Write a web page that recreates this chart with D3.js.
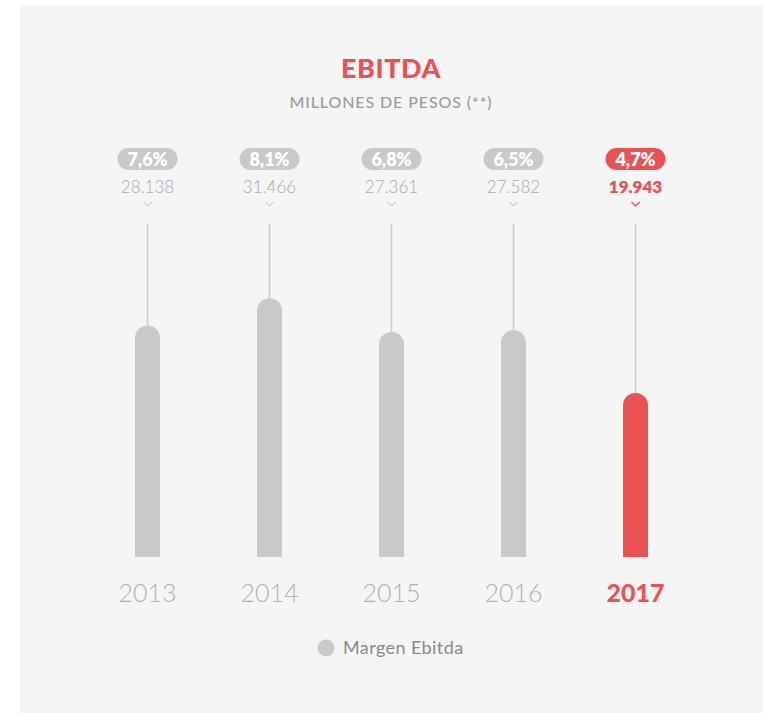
<!DOCTYPE html>
<html>
<head>
<meta charset="utf-8">
<script src="https://cdn.jsdelivr.net/npm/d3@7"></script>
<style>
  html, body { margin: 0; padding: 0; background: #ffffff; }
  svg { display: block; }
</style>
</head>
<body>
<svg id="chart" width="769" height="713"></svg>
<script>
const years = ["2013", "2014", "2015", "2016", "2017"];
const ebitda = [28138, 31466, 27361, 27582, 19943];
const ebitdaLabels = ["28.138", "31.466", "27.361", "27.582", "19.943"];
const margins = ["7,6%", "8,1%", "6,8%", "6,5%", "4,7%"];
const highlightYear = "2017";

const GRAY = "#c8c9ca", RED = "#e85253";
const svg = d3.select("#chart");
const font = "Lato, 'Open Sans', sans-serif";

svg.append("rect").attr("x", 20).attr("y", 5).attr("width", 743).attr("height", 708).attr("fill", "#f5f5f5");

svg.append("text").attr("x", 391).attr("y", 78).attr("text-anchor", "middle")
  .attr("font-family", font).attr("font-weight", 900).attr("font-size", 27)
  .attr("letter-spacing", 0.5).attr("fill", RED).text("EBITDA");
svg.append("text").attr("x", 391).attr("y", 108).attr("text-anchor", "middle")
  .attr("font-family", font).attr("font-weight", 500).attr("font-size", 16)
  .attr("letter-spacing", 0.9).attr("fill", "#9a9a9a").text("MILLONES DE PESOS (**)");

const x = d3.scalePoint().domain(years).range([147.5, 635.5]);
const y = d3.scaleLinear().domain([0, 34000]).range([557, 557 - 34000 * 0.008226]);

const bw = 25, r = bw / 2;
const data = years.map((yr, i) => ({yr, v: ebitda[i], lab: ebitdaLabels[i], m: margins[i]}));
const colorOf = d => d.yr === highlightYear ? RED : GRAY;

const g = svg.append("g");
const col = g.selectAll("g.col").data(data).join("g").attr("class", "col");

col.append("line")
  .attr("x1", d => x(d.yr)).attr("x2", d => x(d.yr))
  .attr("y1", 224).attr("y2", d => y(d.v) + 2)
  .attr("stroke", "#cbcbcb").attr("stroke-width", 1.5);

col.append("path")
  .attr("fill", colorOf)
  .attr("d", d => {
    const cx = x(d.yr), top = y(d.v), bot = y(0);
    return `M${cx - r},${bot} L${cx - r},${top + r} A${r},${r} 0 0 1 ${cx + r},${top + r} L${cx + r},${bot} Z`;
  });

// margin pills
col.append("rect")
  .attr("x", d => x(d.yr) - 30).attr("y", 148).attr("width", 60).attr("height", 22)
  .attr("rx", 11).attr("fill", colorOf);
col.append("text")
  .attr("x", d => x(d.yr)).attr("y", 165.5).attr("text-anchor", "middle")
  .attr("font-family", font).attr("font-weight", 800).attr("font-size", 18)
  .attr("fill", "#ffffff").text(d => d.m);

// value labels
col.append("text")
  .attr("x", d => x(d.yr)).attr("y", 193).attr("text-anchor", "middle")
  .attr("font-family", font)
  .attr("font-weight", d => d.yr === highlightYear ? 800 : 300)
  .attr("font-size", 17)
  .attr("fill", d => d.yr === highlightYear ? RED : "#a8a8a8").text(d => d.lab);

// chevrons
col.append("path")
  .attr("d", d => { const cx = x(d.yr); return `M${cx - 4},${202} L${cx},${206} L${cx + 4},${202}`; })
  .attr("fill", "none")
  .attr("stroke", d => d.yr === highlightYear ? RED : "#b5b5b5")
  .attr("stroke-width", d => d.yr === highlightYear ? 1.4 : 1);

// year axis labels
col.append("text")
  .attr("x", d => x(d.yr)).attr("y", 602).attr("text-anchor", "middle")
  .attr("font-family", font)
  .attr("font-weight", d => d.yr === highlightYear ? 900 : 300)
  .attr("font-size", 25)
  .attr("fill", d => d.yr === highlightYear ? RED : "#b0b0b0").text(d => d.yr);

// legend
svg.append("circle").attr("cx", 326).attr("cy", 648).attr("r", 8.5).attr("fill", GRAY);
svg.append("text").attr("x", 343).attr("y", 654)
  .attr("font-family", font).attr("font-weight", 400).attr("font-size", 18)
  .attr("letter-spacing", 0.4).attr("fill", "#888888").text("Margen Ebitda");
</script>
</body>
</html>
